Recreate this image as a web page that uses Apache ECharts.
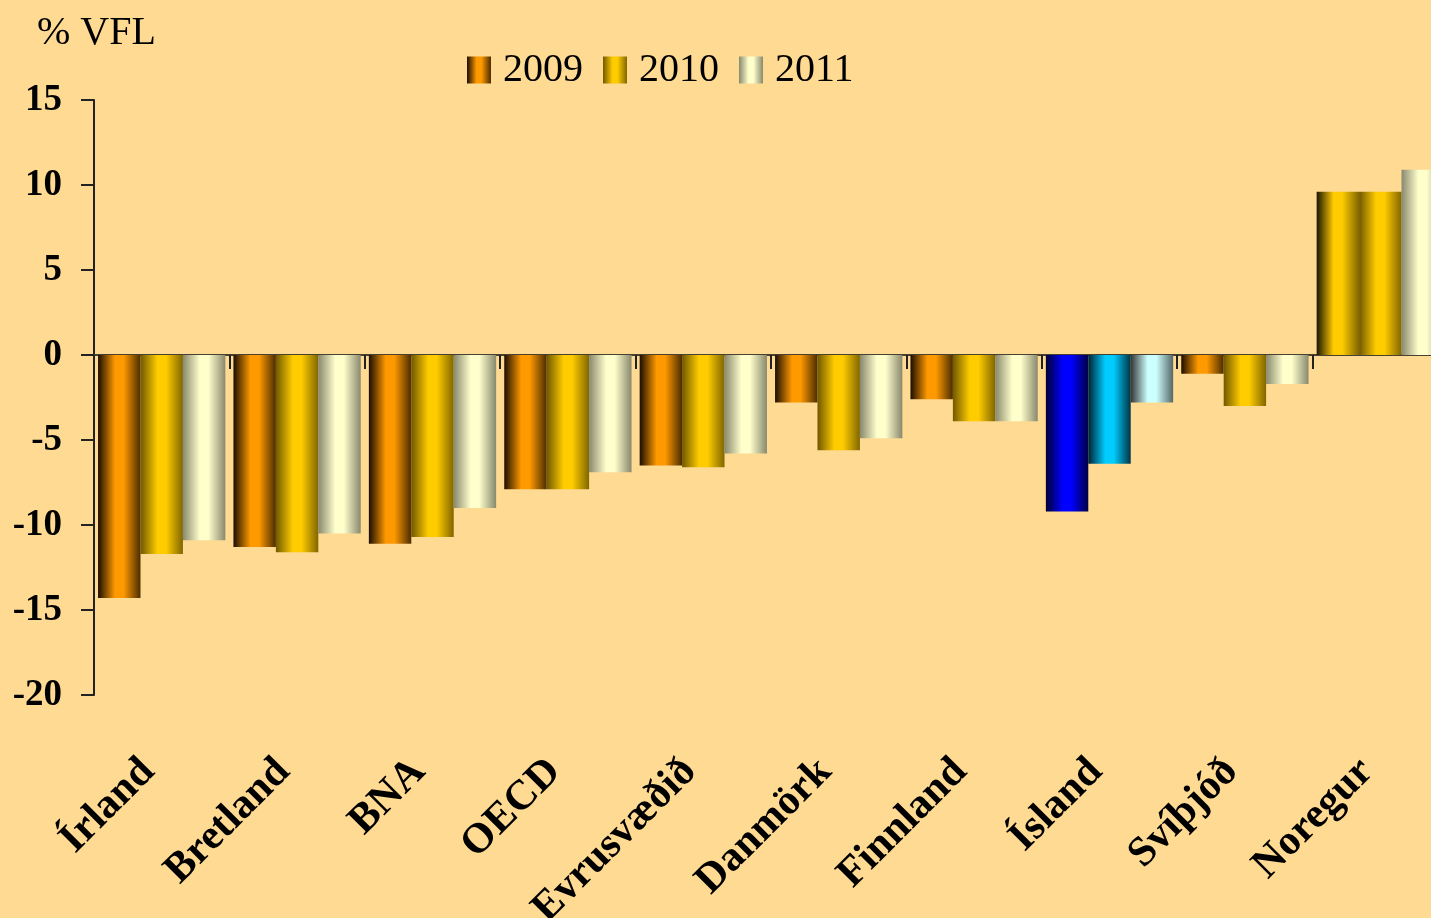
<!DOCTYPE html>
<html>
<head>
<meta charset="utf-8">
<script src="https://cdn.jsdelivr.net/npm/echarts@6/dist/echarts.min.js"></script>
<style>
  html, body { margin: 0; padding: 0; background: #FFDA92; }
  #chart { width: 1431px; height: 918px; }
</style>
</head>
<body>
<div id="chart"></div>
<script>
var countries = ['Írland', 'Bretland', 'BNA', 'OECD', 'Evrusvæðið', 'Danmörk', 'Finnland', 'Ísland', 'Svíþjóð', 'Noregur'];
var years = ['2009', '2010', '2011'];
var val2009 = [-14.3, -11.3, -11.1, -7.9, -6.5, -2.8, -2.6, -9.2, -1.1, 9.6];
var val2010 = [-11.7, -11.6, -10.7, -7.9, -6.6, -5.6, -3.9, -6.4, -3.0, 9.6];
var val2011 = [-10.9, -10.5, -9.0, -6.9, -5.8, -4.9, -3.9, -2.8, -1.7, 10.9];
var yTicks = [-20, -15, -10, -5, 0, 5, 10, 15];

// horizontal "cylinder" shading
function shade(left, mid, right) {
  return new echarts.graphic.LinearGradient(0, 0, 1, 0, [
    { offset: 0, color: left },
    { offset: 0.4, color: mid },
    { offset: 0.6, color: mid },
    { offset: 1, color: right }
  ]);
}

var c2009 = shade('#1a0d00', '#ff9900', '#4a2c00');
var c2010 = shade('#705800', '#ffcc00', '#806600');
var c2011 = shade('#88886e', '#ffffcc', '#88886e');

// Ísland drawn in blues, Noregur 2009 drawn like 2010
var special = {
  0: { 7: shade('#000033', '#0000ff', '#000044'), 9: shade('#1a1400', '#ffcc00', '#806600') },
  1: { 7: shade('#002233', '#00ccff', '#003344') },
  2: { 7: shade('#333333', '#ccffff', '#556666') }
};

function build(values, idx) {
  return values.map(function (v, i) {
    var c = special[idx][i];
    return c ? { value: v, itemStyle: { color: c } } : v;
  });
}

var chart = echarts.init(document.getElementById('chart'));
var font = '"Liberation Serif", "Times New Roman", serif';

chart.setOption({
  backgroundColor: '#FFDA92',
  animation: false,
  textStyle: { fontFamily: font },
  title: {
    text: '% VFL',
    left: 32,
    top: 8,
    textStyle: { fontFamily: font, fontWeight: 'normal', fontSize: 40, color: '#000' }
  },
  legend: {
    data: years,
    icon: 'rect',
    left: 462,
    top: 45,
    itemWidth: 24,
    itemHeight: 27,
    itemGap: 20,
    textStyle: { fontFamily: font, fontSize: 40, color: '#000', padding: [0, 0, 0, 7] }
  },
  grid: { left: 94, top: 100, height: 595, width: 1354, outerBoundsMode: 'none', containLabel: false },
  xAxis: [{
    type: 'category',
    data: countries,
    axisLine: { onZero: true, lineStyle: { color: '#4a4030', width: 2 } },
    axisTick: { show: true, length: 14, lineStyle: { color: '#222', width: 2 } },
    axisLabel: { show: false }
  }, {
    type: 'category',
    data: countries,
    position: 'bottom',
    axisLine: { show: false, onZero: false },
    axisTick: { show: false },
    axisLabel: {
      rotate: 45,
      margin: 57,
      padding: [0, 19, 0, 0],
      interval: 0,
      fontFamily: font,
      fontSize: 42,
      fontWeight: 'bold',
      color: '#000'
    }
  }],
  yAxis: {
    type: 'value',
    min: yTicks[0],
    max: yTicks[yTicks.length - 1],
    interval: 5,
    splitLine: { show: false },
    axisLine: { show: true, lineStyle: { color: '#222', width: 2 } },
    axisTick: { show: true, length: 13, lineStyle: { color: '#222', width: 2 } },
    axisLabel: { fontFamily: font, fontSize: 37, fontWeight: 'bold', color: '#000', margin: 32 }
  },
  series: [
    { name: '2009', type: 'bar', data: build(val2009, 0), barGap: '0%', barCategoryGap: '6%', itemStyle: { color: c2009 } },
    { name: '2010', type: 'bar', data: build(val2010, 1), barGap: '0%', barCategoryGap: '6%', itemStyle: { color: c2010 } },
    { name: '2011', type: 'bar', data: build(val2011, 2), barGap: '0%', barCategoryGap: '6%', itemStyle: { color: c2011 } }
  ]
});
</script>
</body>
</html>
